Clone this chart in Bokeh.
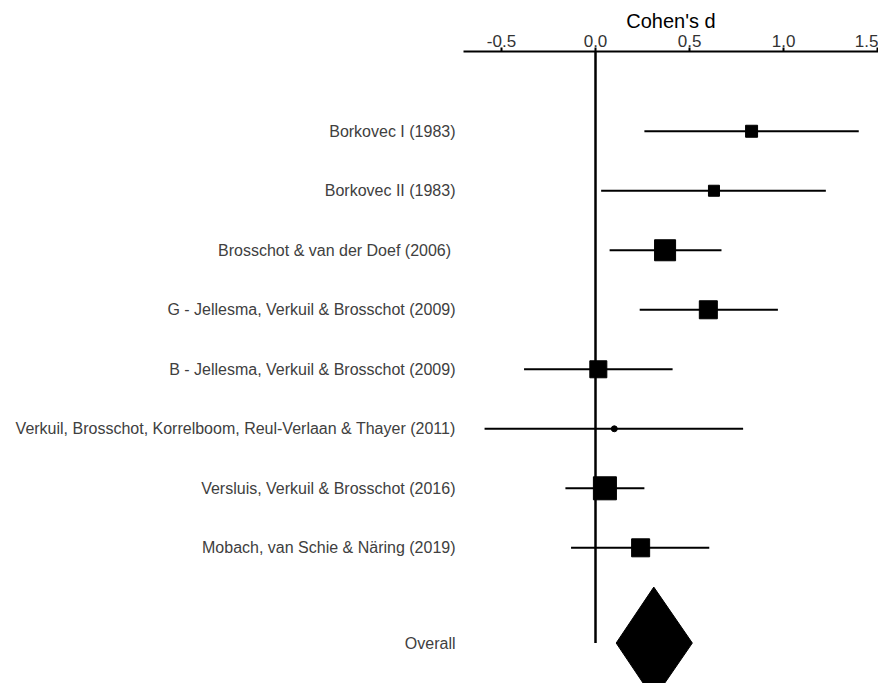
import numpy as np
from bokeh.plotting import figure
from bokeh.models import Range1d, FixedTicker, PrintfTickFormatter, ColumnDataSource
from bokeh.embed import file_html
from bokeh.resources import INLINE

# ---- data ----
studies = [
    "Borkovec I (1983)",
    "Borkovec II (1983)",
    "Brosschot  & van der Doef (2006)",
    "G - Jellesma, Verkuil & Brosschot (2009)",
    "B - Jellesma, Verkuil & Brosschot (2009)",
    "Verkuil, Brosschot, Korrelboom, Reul-Verlaan & Thayer (2011)",
    "Versluis, Verkuil & Brosschot (2016)",
    "Mobach, van Schie & N\u00e4ring (2019)",
]
effect = [0.83, 0.63, 0.37, 0.60, 0.015, 0.10, 0.05, 0.24]
ci_low = [0.26, 0.03, 0.075, 0.235, -0.38, -0.59, -0.16, -0.13]
ci_high = [1.40, 1.225, 0.67, 0.97, 0.41, 0.785, 0.26, 0.605]
weight = [6.5, 5.5, 20.0, 14.7, 13.1, 1.6, 24.0, 14.7]

overall_label = "Overall"
overall_effect = 0.31
overall_low = 0.11
overall_high = 0.515

x_ticks = [-0.5, 0.0, 0.5, 1.0, 1.5]
x_title = "Cohen's d"

# ---- layout ----
rows = list(range(len(studies)))
overall_row = len(studies) + 0.6
y_top, y_bottom = -1.34, 9.28
diamond_half = 0.94

sizes = [4.7 * np.sqrt(w) for w in weight]
markers = ["circle" if w < 3 else "square" for w in weight]

src = ColumnDataSource(dict(row=rows, effect=effect, lo=ci_low, hi=ci_high,
                            size=sizes, marker=markers))

p = figure(width=878, height=683, output_backend="svg", toolbar_location=None,
           x_range=Range1d(-0.702, 1.505), y_range=Range1d(y_bottom, y_top),
           x_axis_location="above", y_axis_location="left",
           min_border_left=463, min_border_right=0, min_border_top=51, min_border_bottom=0)

p.grid.visible = False
p.outline_line_color = None
p.background_fill_color = "white"
p.border_fill_color = "white"

# zero line
p.segment(x0=[0], y0=[y_top], x1=[0], y1=[overall_row], line_color="black", line_width=2.5)

# CIs
p.segment(x0="lo", y0="row", x1="hi", y1="row", source=src, line_color="black", line_width=2)
# point estimates
p.scatter(x="effect", y="row", size="size", marker="marker", source=src,
          fill_color="black", line_color="black")

# overall diamond
p.patch(x=[overall_low, overall_effect, overall_high, overall_effect],
        y=[overall_row, overall_row - diamond_half, overall_row, overall_row + diamond_half],
        fill_color="black", line_color="black")

# top axis
xa = p.xaxis[0]
xa.ticker = FixedTicker(ticks=x_ticks)
xa.formatter = PrintfTickFormatter(format="%.1f")
xa.axis_label = x_title
xa.axis_label_text_font = "Liberation Sans"
xa.axis_label_text_font_style = "normal"
xa.axis_label_text_font_size = "20px"
xa.axis_label_text_color = "black"
xa.axis_label_standoff = 0
xa.major_label_text_font = "Liberation Sans"
xa.major_label_text_font_size = "17px"
xa.major_label_text_color = "#333333"
xa.major_label_standoff = 1
xa.axis_line_width = 2
xa.major_tick_line_width = 2
xa.major_tick_out = 4
xa.major_tick_in = 0
xa.minor_tick_line_color = None

# left axis = study labels
ya = p.yaxis[0]
ya.ticker = FixedTicker(ticks=rows + [overall_row])
labels = {r: s for r, s in zip(rows, studies)}
labels[overall_row] = overall_label
ya.major_label_overrides = labels
ya.axis_line_color = None
ya.major_tick_line_color = None
ya.minor_tick_line_color = None
ya.major_tick_out = 0
ya.major_tick_in = 0
ya.major_label_standoff = 8
ya.major_label_text_font = "Liberation Sans"
ya.major_label_text_font_size = "16px"
ya.major_label_text_color = "#404040"

open("out.html", "w").write(file_html(p, INLINE))
